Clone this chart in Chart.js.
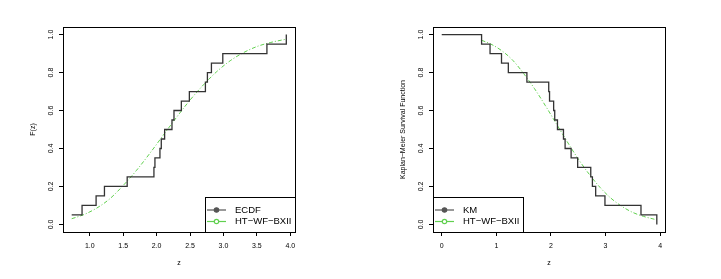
<!DOCTYPE html>
<html>
<head>
<meta charset="utf-8">
<script src="https://cdn.jsdelivr.net/npm/chart.js@4"></script>
<style>
  body { margin: 0; background: #fff; }
  canvas { display: block; float: left; }
</style>
</head>
<body>
<canvas id="cdfChart" width="360" height="279"></canvas>
<canvas id="kmChart" width="361" height="279"></canvas>
<script>
// sorted sample values
const zValues = [0.73, 0.885, 1.095, 1.22, 1.56, 1.96, 1.975, 2.05, 2.07, 2.12,
                 2.23, 2.26, 2.37, 2.49, 2.73, 2.76, 2.82, 2.99, 3.65, 3.94];
const ecdfValues = [0.05, 0.10, 0.15, 0.20, 0.25, 0.30, 0.35, 0.40, 0.45, 0.50,
                    0.55, 0.60, 0.65, 0.70, 0.75, 0.80, 0.85, 0.90, 0.95, 1.00];
// Kaplan-Meier starts at z = 0
const kmZ = [0, 0.73, 0.885, 1.095, 1.22, 1.56, 1.96, 1.975, 2.05, 2.07, 2.12,
             2.23, 2.26, 2.37, 2.49, 2.73, 2.76, 2.82, 2.99, 3.65, 3.94];
const kmValues = [1.00, 0.95, 0.90, 0.85, 0.80, 0.75, 0.70, 0.65, 0.60, 0.55, 0.50,
                  0.45, 0.40, 0.35, 0.30, 0.25, 0.20, 0.15, 0.10, 0.05, 0.00];
// fitted HT-WF-BXII model
const fitZ = [0.73, 0.9, 1.1, 1.3, 1.5, 1.7, 1.9, 2.1, 2.3, 2.5, 2.7, 2.9, 3.1, 3.3, 3.5, 3.7, 3.94];
const fitCdf = [0.030, 0.050, 0.085, 0.135, 0.205, 0.285, 0.375, 0.470, 0.565, 0.655,
                0.735, 0.805, 0.862, 0.905, 0.937, 0.958, 0.976];
const fitSurv = [0.970, 0.950, 0.915, 0.865, 0.795, 0.715, 0.625, 0.530, 0.435, 0.345,
                 0.265, 0.195, 0.138, 0.095, 0.063, 0.042, 0.024];

const cdfTicksX = [1.0, 1.5, 2.0, 2.5, 3.0, 3.5, 4.0];
const kmTicksX = [0, 1, 2, 3, 4];
const ticksY = [0.0, 0.2, 0.4, 0.6, 0.8, 1.0];

Chart.defaults.font.family = '"Liberation Sans", Arial, sans-serif';
Chart.defaults.color = '#000';

const green = '#61D04F';
const dark = '#333';

function pts(xs, ys) {
  return xs.map((x, i) => ({x: x, y: ys[i]}));
}

// box round the plot region plus an R style legend
const boxPlugin = {
  id: 'rbox',
  afterDraw(chart, args, opts) {
    const c = chart.ctx, a = chart.chartArea;
    c.save();
    c.strokeStyle = '#000';
    c.lineWidth = 1;
    c.strokeRect(Math.round(a.left) + 0.5, Math.round(a.top) + 0.5,
                 Math.round(a.right - a.left), Math.round(a.bottom - a.top));

    // legend
    const w = opts.width, h = 35;
    const lx = opts.side === 'right' ? Math.round(a.right) - w : Math.round(a.left);
    const ly = Math.round(a.bottom) - h;
    c.fillStyle = '#fff';
    c.fillRect(lx, ly, w, h);
    c.strokeRect(lx + 0.5, ly + 0.5, w, h);
    c.font = '9.5px "Liberation Sans", Arial, sans-serif';
    c.textBaseline = 'middle';
    chart.data.datasets.forEach((ds, i) => {
      const y = ly + 13 + i * 11.5;
      c.strokeStyle = ds.legendLine;
      c.lineWidth = 1.2;
      c.setLineDash([]);
      c.beginPath();
      c.moveTo(lx + 2, y);
      c.lineTo(lx + 21, y);
      c.stroke();
      c.beginPath();
      c.arc(lx + 11.5, y, 2.2, 0, Math.PI * 2);
      c.fillStyle = ds.legendFill;
      c.fill();
      c.stroke();
      c.fillStyle = '#000';
      c.fillText(ds.label, lx + 30, y);
    });
    c.restore();
  }
};

function makeChart(id, cfg) {
  return new Chart(document.getElementById(id), {
    type: 'line',
    data: {
      datasets: [
        {
          label: cfg.stepLabel,
          data: cfg.stepData,
          stepped: 'before',
          borderColor: dark,
          borderWidth: 1.3,
          pointRadius: 0,
          legendLine: '#555',
          legendFill: '#555'
        },
        {
          label: 'HT\u2212WF\u2212BXII',
          data: cfg.fitData,
          borderColor: green,
          borderWidth: 1,
          borderDash: [4, 2, 1, 2],
          cubicInterpolationMode: 'monotone',
          pointRadius: 0,
          legendLine: green,
          legendFill: '#fff'
        }
      ]
    },
    options: {
      responsive: false,
      animation: false,
      devicePixelRatio: 1,
      layout: {padding: {left: 0, top: 27, right: cfg.padRight, bottom: 0}},
      plugins: {
        legend: {display: false},
        tooltip: {enabled: false},
        rbox: {width: 90, side: cfg.legendSide}
      },
      scales: {
        x: {
          type: 'linear',
          min: cfg.xMin,
          max: cfg.xMax,
          afterBuildTicks: s => { s.ticks = cfg.ticksX.map(v => ({value: v})); },
          afterFit: s => { s.height = 47; },
          border: {display: false},
          grid: {drawOnChartArea: false, drawTicks: true, tickLength: 4, color: '#000'},
          ticks: {
            autoSkip: false,
            maxRotation: 0,
            padding: 6,
            font: {size: 7},
            callback: cfg.fmtX
          },
          title: {display: true, text: 'z', font: {size: 7}, padding: {top: 0, bottom: 11.5}}
        },
        y: {
          type: 'linear',
          min: -0.04,
          max: 1.04,
          afterBuildTicks: s => { s.ticks = ticksY.map(v => ({value: v})); },
          afterFit: s => { s.width = cfg.yWidth; },
          border: {display: false},
          grid: {drawOnChartArea: false, drawTicks: true, tickLength: 4, color: '#000'},
          ticks: {
            autoSkip: false,
            minRotation: 90,
            maxRotation: 90,
            crossAlign: 'center',
            padding: 3,
            font: {size: 7},
            callback: v => v.toFixed(1)
          },
          title: {display: true, text: cfg.yTitle, font: {size: 7}, padding: {top: cfg.yTitlePad, bottom: 0}}
        }
      }
    },
    plugins: [boxPlugin]
  });
}

makeChart('cdfChart', {
  stepLabel: 'ECDF',
  stepData: pts(zValues, ecdfValues),
  fitData: pts(fitZ, fitCdf),
  padRight: 65,
  yWidth: 63,
  xMin: 0.60, xMax: 4.07,
  ticksX: cdfTicksX,
  fmtX: v => v.toFixed(1),
  yTitle: 'F(z)',
  yTitlePad: 28.5,
  legendSide: 'right'
});

makeChart('kmChart', {
  stepLabel: 'KM',
  stepData: pts(kmZ, kmValues),
  fitData: pts(fitZ, fitSurv),
  padRight: 56,
  yWidth: 73,
  xMin: -0.16, xMax: 4.09,
  ticksX: kmTicksX,
  fmtX: v => String(v),
  yTitle: 'Kaplan\u2212Meier Survival Function',
  yTitlePad: 38.8,
  legendSide: 'left'
});
</script>
</body>
</html>
